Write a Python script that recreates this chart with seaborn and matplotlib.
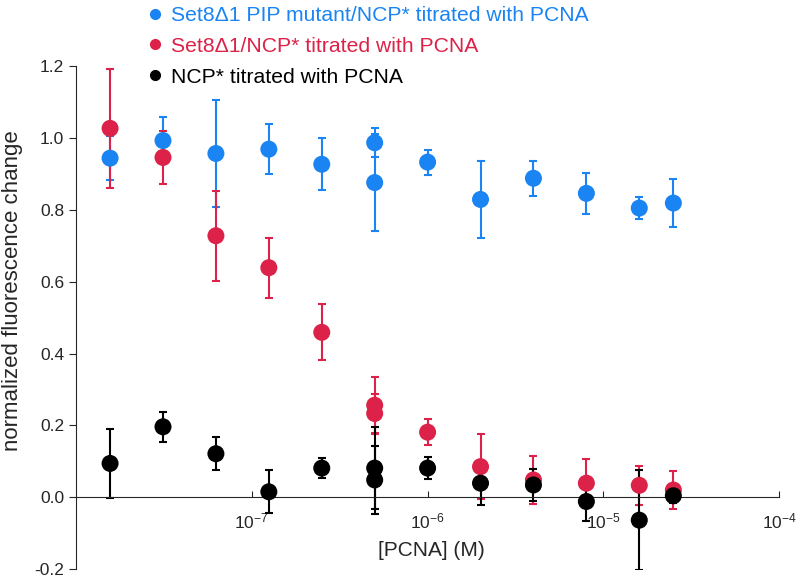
import numpy as np
import pandas as pd
import matplotlib
matplotlib.use('Agg')
import matplotlib.pyplot as plt
from matplotlib.lines import Line2D
import seaborn as sns

# PCNA concentrations (M), two-fold dilution series
conc = [1.5625e-8, 3.125e-8, 6.25e-8, 1.25e-7, 2.5e-7, 5e-7, 5e-7,
        1e-6, 2e-6, 4e-6, 8e-6, 1.6e-5, 2.5e-5]

# Set8d1 PIP mutant / NCP*
pip_val = [0.944, 0.993, 0.957, 0.969, 0.927, 0.987, 0.876,
           0.933, 0.829, 0.888, 0.846, 0.805, 0.819]
pip_err = [0.062, 0.065, 0.150, 0.070, 0.072, 0.040, 0.135,
           0.035, 0.107, 0.048, 0.057, 0.030, 0.068]

# Set8d1 / NCP*
set8_val = [1.027, 0.946, 0.728, 0.639, 0.459, 0.256, 0.233,
            0.181, 0.085, 0.048, 0.039, 0.033, 0.020]
set8_err = [0.165, 0.075, 0.125, 0.083, 0.078, 0.080, 0.055,
            0.037, 0.090, 0.066, 0.068, 0.054, 0.053]

# NCP* alone
ncp_val = [0.094, 0.196, 0.121, 0.015, 0.081, 0.081, 0.048,
           0.081, 0.039, 0.034, -0.012, -0.064, 0.004]
ncp_err = [0.095, 0.041, 0.046, 0.060, 0.028, 0.115, 0.095,
           0.030, 0.060, 0.045, 0.053, 0.140, 0.020]

labels = ['Set8\u03941 PIP mutant/NCP* titrated with PCNA',
          'Set8\u03941/NCP* titrated with PCNA',
          'NCP* titrated with PCNA']
colors = ['#1a84f2', '#dc2248', '#000000']

xtick_vals = [1e-7, 1e-6, 1e-5, 1e-4]
xtick_labels = ['$\\mathregular{10^{-7}}$', '$\\mathregular{10^{-6}}$',
                '$\\mathregular{10^{-5}}$', '$\\mathregular{10^{-4}}$']
ytick_vals = [-0.2, 0.0, 0.2, 0.4, 0.6, 0.8, 1.0, 1.2]

sns.set_style('ticks')
plt.rcParams['font.family'] = ['Liberation Sans', 'DejaVu Sans']
plt.rcParams['mathtext.fontset'] = 'custom'
plt.rcParams['mathtext.rm'] = 'Liberation Sans'

# long format table for seaborn
frames = []
for lab, v, e in zip(labels, [pip_val, set8_val, ncp_val], [pip_err, set8_err, ncp_err]):
    frames.append(pd.DataFrame({'conc': conc, 'value': v, 'err': e, 'series': lab}))
df = pd.concat(frames, ignore_index=True)

fig = plt.figure(figsize=(8, 5.86), dpi=100)
ax = fig.add_axes([0.095, 0.029, 0.879, 0.858])

for lab, col in zip(labels, colors):
    sub = df[df['series'] == lab]
    ax.errorbar(sub['conc'], sub['value'], yerr=sub['err'], fmt='none',
                ecolor=col, elinewidth=1.5, capsize=3, capthick=1.5, zorder=2)

sns.scatterplot(data=df, x='conc', y='value', hue='series', palette=colors,
                s=150, edgecolor='none', legend=False, ax=ax, zorder=3)

ax.set_xscale('log')
ax.set_xlim(1e-8, 1e-4)
ax.set_ylim(-0.2, 1.2)
ax.set_xticks(xtick_vals)
ax.set_xticklabels(xtick_labels)
ax.minorticks_off()
ax.set_yticks(ytick_vals)
ax.set_yticklabels([f'{v:.1f}' for v in ytick_vals])

ax.spines['bottom'].set_position(('data', 0))
ax.spines['top'].set_visible(False)
ax.spines['right'].set_visible(False)
ax.tick_params(axis='x', direction='in', length=4, labelsize=12.5, pad=10)
ax.tick_params(axis='y', direction='out', length=5, labelsize=12.5)

ax.set_xlabel('[PCNA] (M)', fontsize=15)
ax.xaxis.set_label_coords(0.505, 0.055)
ax.set_ylabel('normalized fluorescence change', fontsize=16)
ax.yaxis.set_label_coords(-0.076, 0.553)

handles = [Line2D([], [], marker='o', ls='none', color=c, markersize=7) for c in colors]
ax.legend(handles, labels, loc='upper left', bbox_to_anchor=(150 / 800, 1 - 6 / 586),
          bbox_transform=fig.transFigure, frameon=False, fontsize=15.2,
          labelcolor=colors, handletextpad=0.5, handlelength=0.5,
          labelspacing=0.56, borderpad=0, borderaxespad=0)

fig.savefig('out.png', dpi=100)
